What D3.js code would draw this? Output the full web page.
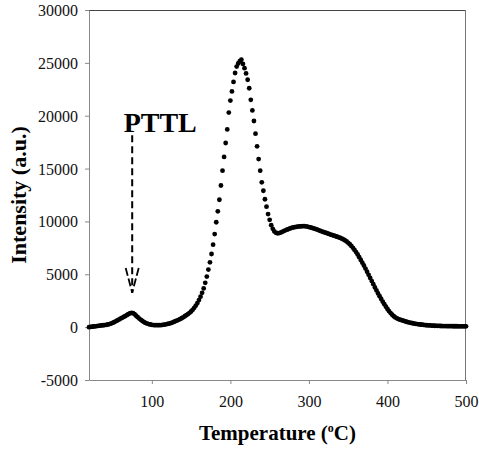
<!DOCTYPE html>
<html>
<head>
<meta charset="utf-8">
<script src="https://cdn.jsdelivr.net/npm/d3@7"></script>
<style>
  html, body { margin: 0; padding: 0; background: #fff; }
  svg { display: block; }
  .tick text { font-family: "Liberation Serif", "Times New Roman", serif; font-size: 16px; fill: #111; }
</style>
</head>
<body>
<div id="chart"></div>
<script>
// temperatura (°C) e intensidade TL (a.u.)
const temperature = [
  20, 22, 24, 26, 28, 30, 32, 34, 36, 38,
  40, 42, 44, 46, 48, 50, 52, 54, 56, 58,
  60, 62, 64, 66, 68, 70, 72, 74, 76, 78,
  80, 82, 84, 86, 88, 90, 92, 94, 96, 98,
  100, 102, 104, 106, 108, 110, 112, 114, 116, 118,
  120, 122, 124, 126, 128, 130, 132, 134, 136, 138,
  140, 142, 144, 146, 148, 150, 152, 154, 156, 158,
  160, 162, 164, 166, 168, 170, 172, 174, 176, 178,
  180, 182, 184, 186, 188, 190, 192, 194, 196, 198,
  200, 202, 204, 206, 208, 210, 212, 214, 216, 218,
  220, 222, 224, 226, 228, 230, 232, 234, 236, 238,
  240, 242, 244, 246, 248, 250, 252, 254, 256, 258,
  260, 262, 264, 266, 268, 270, 272, 274, 276, 278,
  280, 282, 284, 286, 288, 290, 292, 294, 296, 298,
  300, 302, 304, 306, 308, 310, 312, 314, 316, 318,
  320, 322, 324, 326, 328, 330, 332, 334, 336, 338,
  340, 342, 344, 346, 348, 350, 352, 354, 356, 358,
  360, 362, 364, 366, 368, 370, 372, 374, 376, 378,
  380, 382, 384, 386, 388, 390, 392, 394, 396, 398,
  400, 402, 404, 406, 408, 410, 412, 414, 416, 418,
  420, 422, 424, 426, 428, 430, 432, 434, 436, 438,
  440, 442, 444, 446, 448, 450, 452, 454, 456, 458,
  460, 462, 464, 466, 468, 470, 472, 474, 476, 478,
  480, 482, 484, 486, 488, 490, 492, 494, 496, 498,
  500
];

const intensity = [
  0, 20, 40, 60, 80, 100, 120, 140, 160, 180,
  200, 220, 250, 290, 340, 400, 470, 550, 630, 710,
  800, 880, 960, 1040, 1130, 1220, 1300, 1350, 1320, 1220,
  1080, 940, 810, 690, 580, 480, 400, 340, 290, 250,
  220, 200, 190, 185, 185, 190, 200, 215, 240, 270,
  300, 340, 380, 430, 490, 560, 620, 690, 760, 840,
  930, 1030, 1130, 1240, 1350, 1480, 1640, 1830, 2040, 2280,
  2560, 2880, 3250, 3660, 4190, 4780, 5450, 6130, 6920, 7800,
  8800, 9920, 10960, 12050, 13400, 14800, 16100, 17420, 18700, 20300,
  21430, 22300, 23200, 24040, 24650, 24950, 25150, 25300, 24900, 24500,
  24000, 23400, 22600, 21500, 20500, 19500, 18300, 17100, 15900, 14800,
  13700, 12900, 12100, 11400, 10700, 10150, 9650, 9300, 9050, 8920,
  8880, 8900, 8950, 9020, 9090, 9160, 9220, 9280, 9340, 9390,
  9430, 9460, 9490, 9510, 9530, 9540, 9550, 9550, 9540, 9510,
  9470, 9430, 9390, 9340, 9290, 9240, 9180, 9120, 9060, 9010,
  8960, 8910, 8860, 8800, 8750, 8700, 8650, 8600, 8550, 8500,
  8440, 8370, 8290, 8200, 8100, 7980, 7840, 7680, 7500, 7300,
  7100, 6870, 6620, 6360, 6100, 5830, 5540, 5250, 4950, 4660,
  4360, 4060, 3760, 3470, 3190, 2920, 2660, 2410, 2170, 1940,
  1720, 1510, 1330, 1170, 1030, 920, 830, 760, 710, 660,
  610, 560, 510, 470, 430, 400, 370, 340, 310, 290,
  270, 250, 230, 210, 195, 180, 170, 160, 150, 140,
  130, 125, 120, 115, 110, 105, 100, 100, 95, 95,
  90, 90, 85, 85, 85, 80, 80, 80, 80, 80,
  80
];

const xTicks = [100, 200, 300, 400, 500];
const yTicks = [-5000, 0, 5000, 10000, 15000, 20000, 25000, 30000];

// anotação do pico PTTL
const pttlLabel = "PTTL";
const pttlTemp = 75;
const pttlArrow = { from: 18150, to: 3250, wing: 5600 };

const width = 479, height = 453;
const margin = { top: 10, right: 13, bottom: 73, left: 89 };
const w = width - margin.left - margin.right;
const h = height - margin.top - margin.bottom;
const serif = '"Liberation Serif", "Times New Roman", serif';

const points = temperature.map((t, i) => ({ x: t, y: intensity[i] }));

const svg = d3.select("#chart").append("svg")
  .attr("width", width)
  .attr("height", height);

const root = svg.append("g")
  .attr("transform", `translate(${margin.left},${margin.top})`);

const x = d3.scaleLinear().domain([20, 500]).range([0, w]);
const y = d3.scaleLinear().domain([-5000, 30000]).range([h, 0]);

// moldura (topo e direita)
root.append("line")
  .attr("x1", 0).attr("x2", w).attr("y1", 0.5).attr("y2", 0.5)
  .attr("stroke", "#444").attr("stroke-width", 1);
root.append("line")
  .attr("x1", w - 0.5).attr("x2", w - 0.5).attr("y1", 0).attr("y2", h)
  .attr("stroke", "#777").attr("stroke-width", 1);

// eixos (hífen simples no "-5000", como no original)
const fmt = d => String(d);
const xAxisG = root.append("g")
  .attr("transform", `translate(0,${h})`)
  .call(d3.axisBottom(x).tickValues(xTicks).tickSize(4).tickSizeOuter(0).tickPadding(12).tickFormat(fmt));
const yAxisG = root.append("g")
  .call(d3.axisLeft(y).tickValues(yTicks).tickSize(4).tickSizeOuter(0).tickPadding(7).tickFormat(fmt));

[xAxisG, yAxisG].forEach(g => {
  g.select(".domain").attr("stroke", "#888");
  g.selectAll(".tick line").attr("stroke", "#888");
});
yAxisG.selectAll(".tick text").attr("dy", "0.34em");

// pontos
root.append("g").attr("class", "points")
  .selectAll("circle")
  .data(points)
  .join("circle")
  .attr("cx", d => x(d.x))
  .attr("cy", d => y(d.y))
  .attr("r", 2.4)
  .attr("fill", "#000");

// rótulos dos eixos
root.append("text")
  .attr("x", w / 2)
  .attr("y", h + 60)
  .attr("text-anchor", "middle")
  .attr("font-family", serif)
  .attr("font-size", 21)
  .attr("font-weight", "bold")
  .attr("fill", "#000")
  .call(t => {
    t.append("tspan").text("Temperature (");
    t.append("tspan").attr("font-size", 12).attr("dy", -8).text("o");
    t.append("tspan").attr("dy", 8).text("C)");
  });

root.append("text")
  .attr("transform", `translate(${-63},${h / 2}) rotate(-90)`)
  .attr("text-anchor", "middle")
  .attr("font-family", serif)
  .attr("font-size", 22)
  .attr("font-weight", "bold")
  .attr("fill", "#000")
  .text("Intensity (a.u.)");

// seta tracejada PTTL
const ax = x(pttlTemp);
const dash = "7,4";
root.append("line")
  .attr("x1", ax).attr("x2", ax)
  .attr("y1", y(pttlArrow.from)).attr("y2", y(pttlArrow.to))
  .attr("stroke", "#000").attr("stroke-width", 2).attr("stroke-dasharray", dash);
[-6.5, 6.5].forEach(off => {
  root.append("line")
    .attr("x1", ax + off).attr("y1", y(pttlArrow.wing))
    .attr("x2", ax).attr("y2", y(pttlArrow.to))
    .attr("stroke", "#000").attr("stroke-width", 1.8).attr("stroke-dasharray", "8,3");
});

root.append("text")
  .attr("x", ax + 28)
  .attr("y", y(pttlArrow.from) - 3)
  .attr("text-anchor", "middle")
  .attr("font-family", serif)
  .attr("font-size", 28)
  .attr("font-weight", "bold")
  .attr("fill", "#000")
  .text(pttlLabel);
</script>
</body>
</html>
